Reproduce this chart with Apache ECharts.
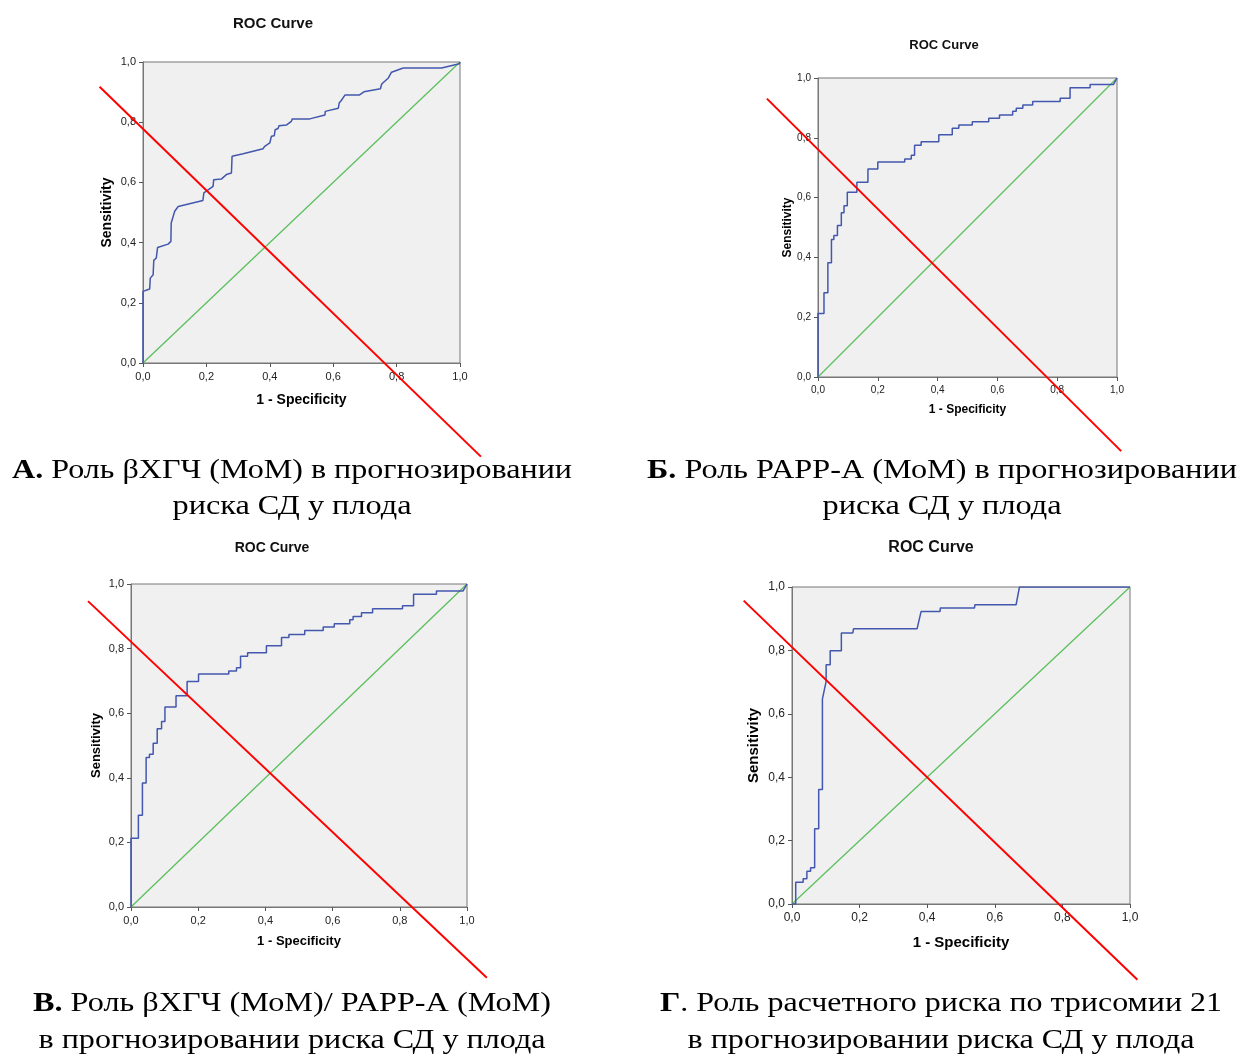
<!DOCTYPE html>
<html>
<head>
<meta charset="utf-8">
<script src="https://cdn.jsdelivr.net/npm/echarts@6/dist/echarts.min.js"></script>
<style>
  html, body { margin: 0; padding: 0; background: #fff; }
  #main { width: 1240px; height: 1057px; }
</style>
</head>
<body>
<div id="main"></div>
<script>
// ROC curves: [1 - specificity, sensitivity]
const curveA = [[0,0],[0,0.238],[0.021,0.246],[0.023,0.282],[0.032,0.293],[0.034,0.341],[0.042,0.349],
  [0.046,0.384],[0.079,0.395],[0.088,0.404],[0.089,0.465],[0.1,0.504],[0.111,0.52],[0.189,0.54],
  [0.192,0.565],[0.221,0.587],[0.223,0.609],[0.247,0.611],[0.263,0.626],[0.279,0.631],[0.281,0.687],
  [0.316,0.695],[0.379,0.712],[0.384,0.72],[0.4,0.731],[0.405,0.753],[0.414,0.755],[0.417,0.775],
  [0.426,0.779],[0.429,0.788],[0.453,0.791],[0.468,0.803],[0.471,0.811],[0.526,0.811],[0.574,0.824],
  [0.575,0.836],[0.616,0.846],[0.619,0.864],[0.626,0.873],[0.637,0.89],[0.682,0.89],[0.697,0.901],
  [0.749,0.911],[0.753,0.927],[0.774,0.947],[0.784,0.966],[0.821,0.98],[0.942,0.98],[0.998,0.994],[1,1]];

const curveB = [[0,0],[0,0.212],[0.02,0.212],[0.02,0.282],[0.033,0.282],[0.033,0.382],[0.045,0.382],
  [0.045,0.46],[0.053,0.46],[0.053,0.473],[0.065,0.473],[0.065,0.507],[0.078,0.507],[0.078,0.549],
  [0.087,0.549],[0.087,0.573],[0.098,0.573],[0.098,0.618],[0.13,0.618],[0.13,0.651],[0.167,0.651],
  [0.167,0.696],[0.2,0.696],[0.2,0.719],[0.29,0.719],[0.29,0.729],[0.312,0.729],[0.312,0.742],
  [0.323,0.742],[0.323,0.775],[0.345,0.775],[0.345,0.787],[0.404,0.787],[0.404,0.81],[0.449,0.81],
  [0.449,0.832],[0.471,0.832],[0.471,0.843],[0.516,0.843],[0.516,0.854],[0.571,0.854],[0.571,0.865],
  [0.607,0.865],[0.607,0.876],[0.651,0.876],[0.651,0.889],[0.663,0.889],[0.663,0.899],[0.685,0.899],
  [0.685,0.91],[0.718,0.91],[0.718,0.921],[0.81,0.921],[0.81,0.932],[0.843,0.932],[0.843,0.967],
  [0.91,0.967],[0.91,0.978],[0.988,0.978],[1,1]];

const curveV = [[0,0],[0,0.213],[0.022,0.213],[0.022,0.284],[0.034,0.284],[0.034,0.384],[0.045,0.384],
  [0.045,0.463],[0.055,0.463],[0.055,0.473],[0.066,0.473],[0.066,0.507],[0.078,0.507],[0.078,0.552],
  [0.091,0.552],[0.091,0.574],[0.101,0.574],[0.101,0.619],[0.134,0.619],[0.134,0.654],[0.167,0.654],
  [0.167,0.698],[0.201,0.698],[0.201,0.721],[0.291,0.721],[0.291,0.731],[0.314,0.731],[0.314,0.741],
  [0.326,0.741],[0.326,0.776],[0.347,0.776],[0.347,0.787],[0.403,0.787],[0.403,0.809],[0.448,0.809],
  [0.448,0.834],[0.47,0.834],[0.47,0.844],[0.517,0.844],[0.517,0.856],[0.572,0.856],[0.572,0.867],
  [0.605,0.867],[0.605,0.877],[0.651,0.877],[0.651,0.889],[0.661,0.889],[0.661,0.899],[0.686,0.899],
  [0.686,0.911],[0.719,0.911],[0.719,0.923],[0.808,0.923],[0.808,0.933],[0.841,0.933],[0.841,0.968],
  [0.909,0.968],[0.909,0.978],[0.988,0.978],[1,1]];

const curveG = [[0,0],[0.011,0],[0.011,0.069],[0.033,0.069],[0.033,0.08],[0.044,0.08],[0.044,0.103],
  [0.055,0.103],[0.055,0.114],[0.067,0.114],[0.067,0.237],[0.079,0.237],[0.079,0.361],[0.09,0.361],
  [0.09,0.647],[0.101,0.702],[0.101,0.755],[0.113,0.755],[0.113,0.799],[0.146,0.799],[0.146,0.855],
  [0.18,0.855],[0.182,0.868],[0.37,0.868],[0.382,0.923],[0.438,0.923],[0.439,0.934],[0.54,0.934],
  [0.541,0.944],[0.663,0.944],[0.673,1],[1,1]];

const diagonal = [[0,0],[1,1]];

// red cut lines drawn over each panel (data units of the panel, they run past the axes)
const redA = [[-0.137,0.918],[1.066,-0.311]];
const redB = [[-0.171,0.931],[1.014,-0.248]];
const redV = [[-0.128,0.947],[1.059,-0.219]];
const redG = [[-0.143,0.957],[1.022,-0.239]];

const captions = [
  { lines: [['А.', ' Роль βХГЧ (МоМ) в прогнозировании'], ['', 'риска СД у плода']], cx: 292, ys: [471, 507], widths: [560, 239] },
  { lines: [['Б.', ' Роль PAPP-A (МоМ) в прогнозировании'], ['', 'риска СД у плода']], cx: 942, ys: [471, 507], widths: [590, 239] },
  { lines: [['В.', ' Роль βХГЧ (МоМ)/ PAPP-A (МоМ)'], ['', 'в прогнозировании риска СД у плода']], cx: 292, ys: [1004, 1041], widths: [518, 507] },
  { lines: [['Г', '. Роль расчетного риска по трисомии 21'], ['', 'в прогнозировании риска СД у плода']], cx: 941, ys: [1004, 1041], widths: [562, 507] }
];

const panels = [
  { grid: { left: 143, top: 62, width: 317, height: 301 }, title: [273, 22, 15], label: 11, name: 14, xGap: 30, yGap: 29, curve: curveA, red: redA },
  { grid: { left: 818, top: 78, width: 299, height: 299 }, title: [944, 44, 13], label: 10, name: 12, xGap: 27, yGap: 24, curve: curveB, red: redB },
  { grid: { left: 131, top: 584, width: 336, height: 323 }, title: [272, 547, 14], label: 11, name: 13, xGap: 28, yGap: 28, curve: curveV, red: redV },
  { grid: { left: 792, top: 587, width: 338, height: 317 }, title: [931, 546, 16], label: 12, name: 15, xGap: 31, yGap: 31, curve: curveG, red: redG }
];

// overlay axes range for the red lines (same scale as the panel, wider extent)
const ov = { xmin: -0.3, xmax: 1.2, ymin: -0.4, ymax: 1.1 };

const fmt = v => v.toFixed(1).replace('.', ',');
const sans = 'Liberation Sans, Arial, sans-serif';
const serif = 'Liberation Serif, Times New Roman, serif';

function axis(p, i, isX) {
  return {
    type: 'value', gridIndex: i, min: 0, max: 1, interval: 0.2,
    name: isX ? '1 - Specificity' : 'Sensitivity',
    nameLocation: 'middle', nameGap: isX ? p.xGap : p.yGap,
    nameTextStyle: { fontFamily: sans, fontWeight: 'bold', fontSize: p.name, color: '#000' },
    axisLine: { show: true, lineStyle: { color: '#777', width: 1 } },
    axisTick: { show: true, inside: false, length: 4, lineStyle: { color: '#555' } },
    axisLabel: { formatter: fmt, fontFamily: sans, fontSize: p.label, color: '#222', margin: isX ? 8 : 7 },
    splitLine: { show: false }
  };
}
function hiddenAxis(i, isX) {
  return { type: 'value', gridIndex: i, show: false, min: isX ? ov.xmin : ov.ymin, max: isX ? ov.xmax : ov.ymax, splitLine: { show: false } };
}
function overlayGrid(g) {
  return {
    left: g.left + ov.xmin * g.width, width: (ov.xmax - ov.xmin) * g.width,
    top: g.top - (ov.ymax - 1) * g.height, height: (ov.ymax - ov.ymin) * g.height
  };
}

// measure text so the captions keep the reference widths
const ctx = document.createElement('canvas').getContext('2d');
function measure(parts) {
  ctx.font = 'bold 28px ' + serif;
  let w = ctx.measureText(parts[0]).width;
  ctx.font = '28px ' + serif;
  return w + ctx.measureText(parts[1]).width;
}

const graphics = [];
captions.forEach(c => {
  c.lines.forEach((parts, k) => {
    graphics.push({
      type: 'text', x: c.cx, y: c.ys[k], scaleX: c.widths[k] / measure(parts),
      style: {
        text: (parts[0] ? '{b|' + parts[0] + '}' : '') + parts[1],
        fontFamily: serif, fontSize: 28, fill: '#000',
        textAlign: 'center', textVerticalAlign: 'middle',
        rich: { b: { fontFamily: serif, fontSize: 28, fontWeight: 'bold', fill: '#000' } }
      }
    });
  });
});

const n = panels.length;
const chart = echarts.init(document.getElementById('main'));
chart.setOption({
  animation: false,
  backgroundColor: '#fff',
  title: panels.map(p => ({
    text: 'ROC Curve', left: p.title[0], top: p.title[1] - p.title[2] * 0.4, textAlign: 'center', padding: 0,
    textStyle: { fontFamily: sans, fontWeight: 'bold', fontSize: p.title[2], color: '#111' }
  })),
  grid: panels.map(p => Object.assign({ show: true, backgroundColor: '#f0f0f0', borderColor: '#777', borderWidth: 1 }, p.grid))
    .concat(panels.map(p => overlayGrid(p.grid))),
  xAxis: panels.map((p, i) => axis(p, i, true)).concat(panels.map((p, i) => hiddenAxis(n + i, true))),
  yAxis: panels.map((p, i) => axis(p, i, false)).concat(panels.map((p, i) => hiddenAxis(n + i, false))),
  series: panels.flatMap((p, i) => [
    { type: 'line', xAxisIndex: i, yAxisIndex: i, data: diagonal, showSymbol: false, lineStyle: { color: '#5cbf5c', width: 1.3 } },
    { type: 'line', xAxisIndex: i, yAxisIndex: i, data: p.curve, showSymbol: false, lineStyle: { color: '#4257ad', width: 1.5 } },
    { type: 'line', xAxisIndex: n + i, yAxisIndex: n + i, data: p.red, showSymbol: false, z: 5, lineStyle: { color: '#ff0000', width: 2 } }
  ]),
  graphic: graphics
});
</script>
</body>
</html>
